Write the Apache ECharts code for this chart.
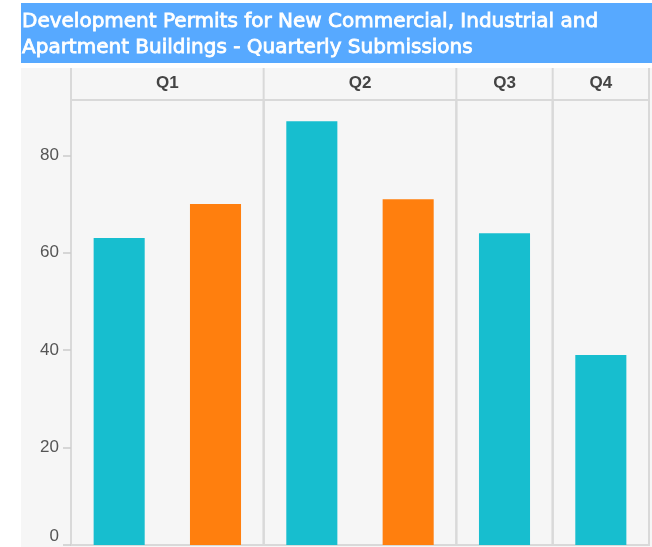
<!DOCTYPE html>
<html>
<head>
<meta charset="utf-8">
<script src="https://cdn.jsdelivr.net/npm/echarts@6/dist/echarts.min.js"></script>
<style>
  html, body { margin: 0; padding: 0; background: #ffffff; }
  #chart { width: 652px; height: 547px; }
</style>
</head>
<body>
<div id="chart"></div>
<script>
// Quarterly submissions, two permit groups per quarter
const quarters = ['Q1', 'Q2', 'Q3', 'Q4'];
const groupA = [63, 87, 64, 39];        // teal bars
const groupB = [70, 71, null, null];    // orange bars
const yTicks = [0, 20, 40, 60, 80];
const titleLines = [
  'Development Permits for New Commercial, Industrial and',
  'Apartment Buildings - Quarterly Submissions'
];

const colorA = '#17becf';
const colorB = '#ff7f0e';
const lineColor = '#d9d9d9';
const panelBg = '#f6f6f6';

// Panel geometry
const plotLeft = 71, plotRight = 649;
const stripTop = 68, plotTop = 100, plotBottom = 545;
const H = 547;

// Facet widths follow the number of bars in each quarter
const counts = quarters.map((q, i) => (groupA[i] != null ? 1 : 0) + (groupB[i] != null ? 1 : 0));
const totalBars = counts.reduce((a, b) => a + b, 0);
const unit = (plotRight - plotLeft) / totalBars;
const edges = [plotLeft];
counts.forEach(c => edges.push(edges[edges.length - 1] + c * unit));

const yMax = Math.max(...groupA.filter(v => v != null), ...groupB.filter(v => v != null)) * 1.05;

const grids = [], xAxes = [], yAxes = [], series = [];
quarters.forEach((q, i) => {
  const cats = [], data = [];
  if (groupA[i] != null) { cats.push('A'); data.push({ value: groupA[i], itemStyle: { color: colorA } }); }
  if (groupB[i] != null) { cats.push('B'); data.push({ value: groupB[i], itemStyle: { color: colorB } }); }
  grids.push({
    left: edges[i], width: edges[i + 1] - edges[i],
    top: plotTop, height: plotBottom - plotTop,
    show: true, backgroundColor: 'transparent',
    borderColor: lineColor, borderWidth: 2
  });
  xAxes.push({
    gridIndex: i, type: 'category', data: cats,
    axisLine: { show: false }, axisTick: { show: false }, axisLabel: { show: false }
  });
  xAxes.push({
    gridIndex: i, type: 'category', data: [q], position: 'top',
    axisLine: { show: false }, axisTick: { show: false },
    axisLabel: {
      show: true, margin: 8, color: '#444',
      fontFamily: 'Liberation Sans', fontWeight: 'bold', fontSize: 17
    }
  });
  yAxes.push({
    gridIndex: i, type: 'value', min: 0, max: yMax, interval: 20,
    show: i === 0,
    splitLine: { show: false },
    axisLine: { show: true, lineStyle: { color: lineColor, width: 2 } },
    axisTick: { show: true, length: 8, lineStyle: { color: '#cccccc', width: 1.5 } },
    axisLabel: {
      show: true, margin: 12, color: '#555',
      fontFamily: 'Liberation Sans', fontSize: 17,
      showMaxLabel: false,
      verticalAlignMinLabel: 'bottom',
      formatter: v => (yTicks.indexOf(v) >= 0 ? String(v) : '')
    }
  });
  series.push({
    type: 'bar', xAxisIndex: i * 2, yAxisIndex: i,
    barWidth: '53%', data: data, animation: false
  });
});

// Strip separators between quarter headers
const stripLines = edges.map(x => ({
  type: 'line', z: 1, silent: true,
  shape: { x1: x, y1: stripTop, x2: x, y2: plotTop },
  style: { stroke: lineColor, lineWidth: 2 }
}));

const chart = echarts.init(document.getElementById('chart'), null, { renderer: 'canvas' });
chart.setOption({
  backgroundColor: panelBg,
  animation: false,
  title: {
    text: titleLines.join('\n'),
    left: 22, top: 9, z: 10, padding: 0,
    textStyle: {
      color: '#ffffff', fontSize: 20, lineHeight: 26,
      fontFamily: 'DejaVu Sans', fontWeight: 'normal',
      textBorderColor: '#ffffff', textBorderWidth: 0.8
    }
  },
  graphic: [
    { type: 'rect', z: 0, silent: true, shape: { x: 0, y: 0, width: 652, height: stripTop }, style: { fill: '#ffffff' } },
    { type: 'rect', z: 0, silent: true, shape: { x: 0, y: 0, width: 21, height: H }, style: { fill: '#ffffff' } },
    { type: 'rect', z: 1, silent: true, shape: { x: 21, y: 3, width: 631, height: 60 }, style: { fill: '#57a9ff' } },
    ...stripLines
  ],
  grid: grids,
  xAxis: xAxes,
  yAxis: yAxes,
  series: series
});
</script>
</body>
</html>
